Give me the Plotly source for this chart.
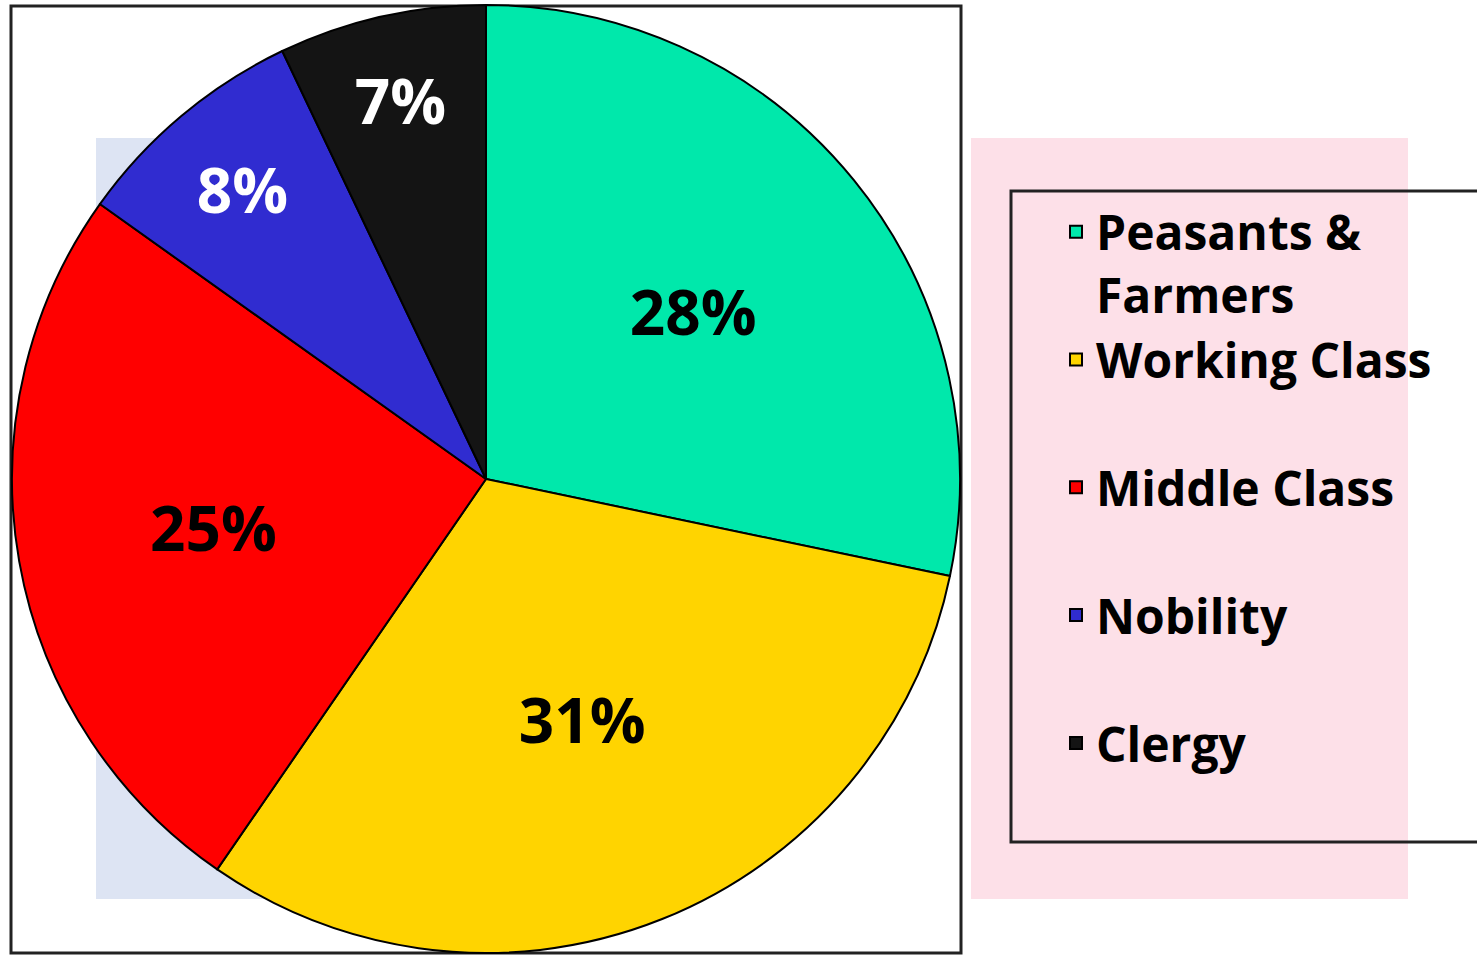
import plotly.graph_objects as go

# ---- data ----
categories = ["Peasants &<br>Farmers", "Working Class<br> ", "Middle Class<br> ", "Nobility<br> ", "Clergy<br> "]
values = [28, 31, 25, 8, 7]
colors = ["#00E8AB", "#FFD400", "#FF0000", "#302CD0", "#141414"]
text_colors = ["black", "black", "black", "white", "white"]

W, H = 1477, 955


def px(x):
    return x / W


def py(y):
    return 1 - y / H


fig = go.Figure()
fig.add_trace(go.Pie(
    labels=categories,
    values=values,
    sort=False,
    direction="clockwise",
    rotation=0,
    marker=dict(colors=colors, line=dict(color="black", width=2)),
    texttemplate="%{value}%",
    textposition="inside",
    insidetextorientation="horizontal",
    textfont=dict(family="Open Sans", size=62, color=text_colors, weight="bold"),
    domain=dict(x=[px(10), px(962)], y=[py(953), py(5)]),
    hoverinfo="label+percent",
))

shapes = [
    # light blue backdrop behind the pie
    dict(type="rect", xref="paper", yref="paper", x0=px(96), x1=px(660), y0=py(899), y1=py(138),
         fillcolor="#DDE4F3", line=dict(width=0), layer="below"),
    # frame around pie
    dict(type="rect", xref="paper", yref="paper", x0=px(11), x1=px(961), y0=py(953), y1=py(6),
         fillcolor="rgba(0,0,0,0)", line=dict(color="#222", width=3), layer="below"),
    # pink backdrop of legend
    dict(type="rect", xref="paper", yref="paper", x0=px(971), x1=px(1408), y0=py(899), y1=py(138),
         fillcolor="#FDE0E8", line=dict(width=0), layer="below"),
    # legend frame
    dict(type="rect", xref="paper", yref="paper", x0=px(1011), x1=px(1490), y0=py(842), y1=py(191),
         fillcolor="rgba(0,0,0,0)", line=dict(color="#222", width=3), layer="below"),
]

fig.update_layout(
    width=W, height=H,
    margin=dict(l=0, r=0, t=0, b=0),
    paper_bgcolor="white",
    plot_bgcolor="white",
    shapes=shapes,
    showlegend=True,
    legend=dict(
        x=px(1056), xanchor="left",
        y=py(194), yanchor="top",
        bgcolor="rgba(0,0,0,0)",
        borderwidth=0,
        valign="top",
        font=dict(family="Open Sans", size=48, color="black", weight="bold"),
        traceorder="normal",
    ),
)

fig.write_html(
    "out.html",
    config={"displayModeBar": False},
    post_script="document.body.style.margin='0';document.body.style.overflow='hidden';",
)
